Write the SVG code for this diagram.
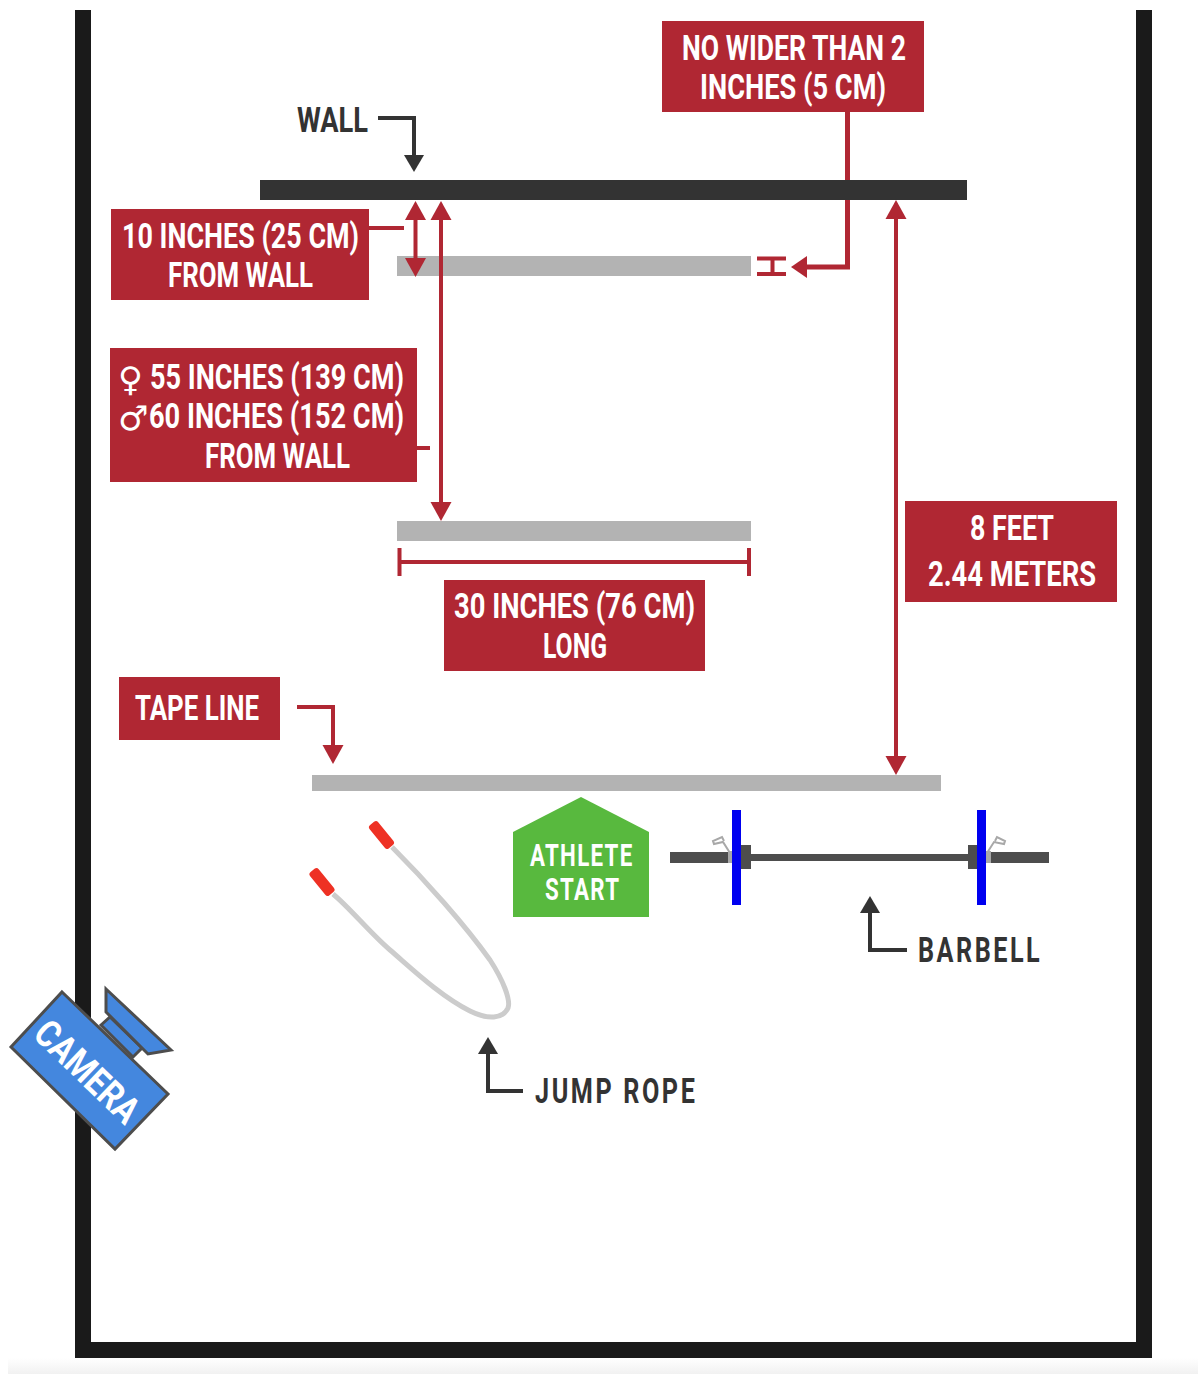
<svg xmlns="http://www.w3.org/2000/svg" width="1204" height="1374" viewBox="0 0 1204 1374">
<defs>
<linearGradient id="fade" x1="0" y1="0" x2="0" y2="1"><stop offset="0" stop-color="#ffffff"/><stop offset="1" stop-color="#f1f1f1"/></linearGradient>
<marker id="hr" markerUnits="userSpaceOnUse" markerWidth="22" markerHeight="22" refX="9" refY="11" orient="auto-start-reverse"><path d="M0 0.500L19 11L0 21.500Z" fill="#b02733"/></marker>
<marker id="hd" markerUnits="userSpaceOnUse" markerWidth="22" markerHeight="22" refX="7" refY="11" orient="auto"><path d="M0 1L17 11L0 21Z" fill="#333"/></marker>
</defs>
<style>
text{font-family:"Roboto","Liberation Sans",sans-serif;font-weight:700;text-anchor:start}
.w{fill:#fff;font-size:35px}
.d{fill:#333;font-size:35px}
.box{fill:#b02733}
.bar{fill:#b3b3b3}
.rl{fill:none;stroke:#b02733;stroke-width:4}
.dl{fill:none;stroke:#333;stroke-width:4}
.pl{fill:#4d4d4d}
.cam{fill:#4487de;stroke:#4d4d4d;stroke-width:3;stroke-linejoin:miter}
.clip{fill:none;stroke:#a8a8a8;stroke-width:2}
.hdl{fill:#ee3124}
</style>
<rect x="0" y="0" width="1204" height="1374" fill="#fff"/>
<rect x="8" y="1358" width="1190" height="16" fill="url(#fade)"/>
<g id="room"><path d="M83 10V1350H1144V10" fill="none" stroke="#1a1a1a" stroke-width="16"/></g>
<g id="bar-top"><rect class="bar" x="397" y="256" width="354" height="20"/></g>
<g id="bar-bottom"><rect class="bar" x="397" y="521" width="354" height="20"/></g>
<g id="tape-line"><rect class="bar" x="312" y="775" width="629" height="16"/></g>
<g id="connectors">
<path class="rl" style="stroke-width:5" d="M847.500 112V267H806"/>
<path d="M791 267L807 256V278Z" fill="#b02733"/>
<path class="rl" d="M368 228H404"/>
<path class="rl" marker-start="url(#hr)" marker-end="url(#hr)" d="M415.500 211V267"/>
<path class="rl" d="M417 448H430"/>
<path class="rl" marker-start="url(#hr)" marker-end="url(#hr)" d="M441 211V511"/>
<path class="rl" marker-start="url(#hr)" marker-end="url(#hr)" d="M896 210V765"/>
<path class="rl" d="M399.500 548V576M399.500 562H749M749 548V576"/>
<path class="rl" marker-end="url(#hr)" d="M297 707H333V754"/>
<path class="dl" marker-end="url(#hd)" d="M378 118H414V162"/>
<path class="dl" marker-end="url(#hd)" d="M907 950H870V906"/>
<path class="dl" marker-end="url(#hd)" d="M523 1091H488V1047"/>
<path d="M757 258.500H786M757 274H786M772.500 258.500V274" fill="none" stroke="#b02733" stroke-width="4"/>
</g>
<g id="wall"><rect x="260" y="180" width="707" height="20" fill="#333"/></g>
<g id="wall-label"><text class="d" x="297" y="132" textLength="71" lengthAdjust="spacingAndGlyphs">WALL</text></g>
<g id="note-width"><rect class="box" x="662" y="21" width="262" height="91"/>
<text class="w" x="682" y="60" textLength="224" lengthAdjust="spacingAndGlyphs">NO WIDER THAN 2</text>
<text class="w" x="700" y="99" textLength="186" lengthAdjust="spacingAndGlyphs">INCHES (5 CM)</text></g>
<g id="note-10in"><rect class="box" x="111" y="209" width="258" height="91"/>
<text class="w" x="122" y="248" textLength="237" lengthAdjust="spacingAndGlyphs">10 INCHES (25 CM)</text>
<text class="w" x="168" y="287" textLength="145" lengthAdjust="spacingAndGlyphs">FROM WALL</text></g>
<g id="note-55in"><rect class="box" x="110" y="348" width="307" height="134"/>
<text x="118" y="391" style="font-family:'DejaVu Sans',sans-serif;font-weight:400;font-size:34px;fill:#fff">♀</text>
<text x="118" y="430" style="font-family:'DejaVu Sans',sans-serif;font-weight:400;font-size:34px;fill:#fff">♂</text>
<text class="w" x="150" y="389" textLength="254" lengthAdjust="spacingAndGlyphs">55 INCHES (139 CM)</text>
<text class="w" x="149" y="428" textLength="255" lengthAdjust="spacingAndGlyphs">60 INCHES (152 CM)</text>
<text class="w" x="205" y="468" textLength="145" lengthAdjust="spacingAndGlyphs">FROM WALL</text></g>
<g id="note-30in"><rect class="box" x="444" y="580" width="261" height="91"/>
<text class="w" x="454" y="618" textLength="241" lengthAdjust="spacingAndGlyphs">30 INCHES (76 CM)</text>
<text class="w" x="543" y="658" textLength="64" lengthAdjust="spacingAndGlyphs">LONG</text></g>
<g id="note-8ft"><rect class="box" x="905" y="501" width="212" height="101"/>
<text class="w" x="970" y="540" textLength="84" lengthAdjust="spacingAndGlyphs">8 FEET</text>
<text class="w" x="928" y="586" textLength="168" lengthAdjust="spacingAndGlyphs">2.44 METERS</text></g>
<g id="note-tape"><rect class="box" x="119" y="677" width="161" height="63"/>
<text class="w" x="135" y="720" textLength="124" lengthAdjust="spacingAndGlyphs">TAPE LINE</text></g>
<g id="athlete-start"><path d="M513 832L581 797L649 832V917H513Z" fill="#58b93e"/>
<text transform="translate(530 866) scale(0.72 1)" textLength="142" lengthAdjust="spacing" style="fill:#fff;font-size:31px">ATHLETE</text>
<text transform="translate(545 900) scale(0.72 1)" textLength="103" lengthAdjust="spacing" style="fill:#fff;font-size:31px">START</text></g>
<g id="barbell">
<rect class="pl" x="751" y="854" width="217" height="7"/>
<rect class="pl" x="670" y="852" width="58" height="11"/>
<rect class="pl" x="991" y="852" width="58" height="11"/>
<rect x="728" y="851" width="5" height="12" fill="#a8a8a8"/>
<rect x="986" y="851" width="5" height="12" fill="#a8a8a8"/>
<rect class="pl" x="741" y="845" width="10" height="24"/>
<rect class="pl" x="968" y="845" width="10" height="24"/>
<rect x="732" y="810" width="9" height="95" fill="#0000f0"/>
<rect x="977" y="810" width="9" height="95" fill="#0000f0"/>
<path class="clip" d="M730 853L723 842L714 844L713 841L722 837L724 841M987 853L994 842L1004 844L1005 841L997 837L995 841"/>
</g>
<g id="barbell-label"><text class="d" transform="translate(918 962) scale(0.72 1)" textLength="169" lengthAdjust="spacing">BARBELL</text></g>
<g id="jump-rope">
<path d="M392 847C425 880 465 925 490 960C503 980 511 1000 508 1008C503 1019 488 1020 470 1011C440 996 410 967 390 950C370 933 350 908 333 894" fill="none" stroke="#ccc" stroke-width="5"/>
<rect class="hdl" x="-15" y="-5.500" width="30" height="11" rx="3" transform="translate(381.500 835) rotate(51)"/>
<rect class="hdl" x="-15" y="-5.500" width="30" height="11" rx="3" transform="translate(322 882) rotate(51)"/>
</g>
<g id="jump-rope-label"><text class="d" transform="translate(535 1103) scale(0.72 1)" textLength="222" lengthAdjust="spacing">JUMP ROPE</text></g>
<g id="camera">
<path class="cam" d="M101 1025L110 1017L142 1048L133 1057Z"/>
<path class="cam" d="M106 989L171 1050L148 1054L106 1012Z"/>
<path class="cam" d="M62 992L168 1094L115 1149L11 1047Z"/>
<text transform="translate(88 1071) rotate(44)" x="-65" y="14" textLength="130" lengthAdjust="spacingAndGlyphs" style="fill:#fff;font-size:38px">CAMERA</text>
</g>
</svg>
